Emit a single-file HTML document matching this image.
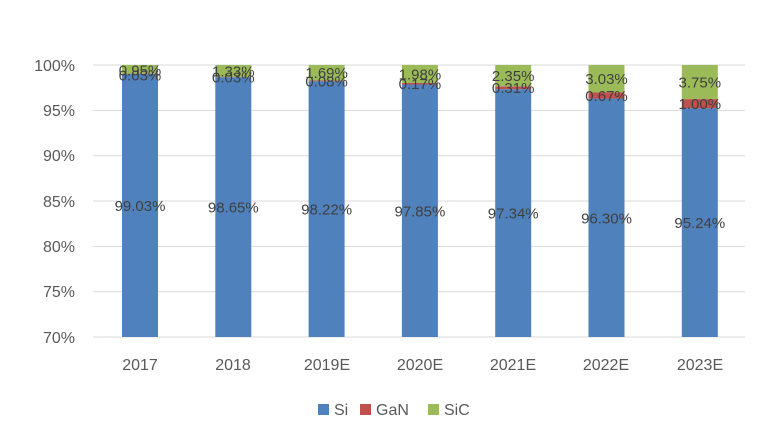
<!DOCTYPE html>
<html><head><meta charset="utf-8"><style>
body{margin:0;background:#fff;}
svg{display:block;font-family:"Liberation Sans",sans-serif;}
</style></head><body>
<svg width="765" height="444" viewBox="0 0 765 444" xmlns="http://www.w3.org/2000/svg">
<g stroke="#d9d9d9" stroke-width="1">
<line x1="93" y1="65" x2="745" y2="65"/>
<line x1="93" y1="110.4" x2="745" y2="110.4"/>
<line x1="93" y1="155.7" x2="745" y2="155.7"/>
<line x1="93" y1="201" x2="745" y2="201"/>
<line x1="93" y1="246.4" x2="745" y2="246.4"/>
<line x1="93" y1="291.7" x2="745" y2="291.7"/>
<line x1="93" y1="337" x2="745" y2="337"/>
</g>
<g fill="#595959" font-size="16" text-anchor="end">
<text x="75" y="71">100%</text>
<text x="75" y="116">95%</text>
<text x="75" y="161">90%</text>
<text x="75" y="207">85%</text>
<text x="75" y="252">80%</text>
<text x="75" y="297">75%</text>
<text x="75" y="343">70%</text>
</g>
<g>
<rect x="122" y="73.8" width="36" height="263.2" fill="#4f81bd"/><rect x="122" y="73.53" width="36" height="0.27" fill="#c0504d"/><rect x="122" y="65" width="36" height="8.53" fill="#9bbb59"/>
<rect x="215.3" y="77.24" width="36" height="259.76" fill="#4f81bd"/><rect x="215.3" y="76.97" width="36" height="0.27" fill="#c0504d"/><rect x="215.3" y="65" width="36" height="11.97" fill="#9bbb59"/>
<rect x="308.6" y="81.14" width="36" height="255.86" fill="#4f81bd"/><rect x="308.6" y="80.42" width="36" height="0.72" fill="#c0504d"/><rect x="308.6" y="65" width="36" height="15.42" fill="#9bbb59"/>
<rect x="401.9" y="84.5" width="36" height="252.5" fill="#4f81bd"/><rect x="401.9" y="82.96" width="36" height="1.54" fill="#c0504d"/><rect x="401.9" y="65" width="36" height="17.96" fill="#9bbb59"/>
<rect x="495.2" y="89.13" width="36" height="247.87" fill="#4f81bd"/><rect x="495.2" y="86.31" width="36" height="2.82" fill="#c0504d"/><rect x="495.2" y="65" width="36" height="21.31" fill="#9bbb59"/>
<rect x="588.5" y="98.56" width="36" height="238.44" fill="#4f81bd"/><rect x="588.5" y="92.48" width="36" height="6.08" fill="#c0504d"/><rect x="588.5" y="65" width="36" height="27.48" fill="#9bbb59"/>
<rect x="681.8" y="108.17" width="36" height="228.83" fill="#4f81bd"/><rect x="681.8" y="99.1" width="36" height="9.07" fill="#c0504d"/><rect x="681.8" y="65" width="36" height="34.1" fill="#9bbb59"/>
</g>
<g fill="#404040" font-size="15" text-anchor="middle">
<text x="140" y="210.9">99.03%</text><text x="140" y="80.5">0.03%</text><text x="140" y="75.5">0.95%</text>
<text x="233.3" y="212.6">98.65%</text><text x="233.3" y="82.6">0.03%</text><text x="233.3" y="76.5">1.33%</text>
<text x="326.6" y="214.6">98.22%</text><text x="326.6" y="86.3">0.08%</text><text x="326.6" y="78.2">1.69%</text>
<text x="419.9" y="216.3">97.85%</text><text x="419.9" y="89.2">0.17%</text><text x="419.9" y="79.5">1.98%</text>
<text x="513.2" y="218.6">97.34%</text><text x="513.2" y="93.2">0.31%</text><text x="513.2" y="81.2">2.35%</text>
<text x="606.5" y="223.3">96.30%</text><text x="606.5" y="101">0.67%</text><text x="606.5" y="84.2">3.03%</text>
<text x="699.8" y="228.1">95.24%</text><text x="699.8" y="109.1">1.00%</text><text x="699.8" y="87.6">3.75%</text>
</g>
<g fill="#595959" font-size="16" text-anchor="middle">
<text x="140" y="370">2017</text>
<text x="233" y="370">2018</text>
<text x="327" y="370">2019E</text>
<text x="420" y="370">2020E</text>
<text x="513" y="370">2021E</text>
<text x="606" y="370">2022E</text>
<text x="700" y="370">2023E</text>
</g>
<g font-size="16" fill="#595959">
<rect x="318" y="404" width="11" height="11" fill="#4f81bd"/><text x="334" y="415">Si</text>
<rect x="360" y="404" width="11" height="11" fill="#c0504d"/><text x="376" y="415">GaN</text>
<rect x="428" y="404" width="11" height="11" fill="#9bbb59"/><text x="444" y="415">SiC</text>
</g>
</svg>
</body></html>
